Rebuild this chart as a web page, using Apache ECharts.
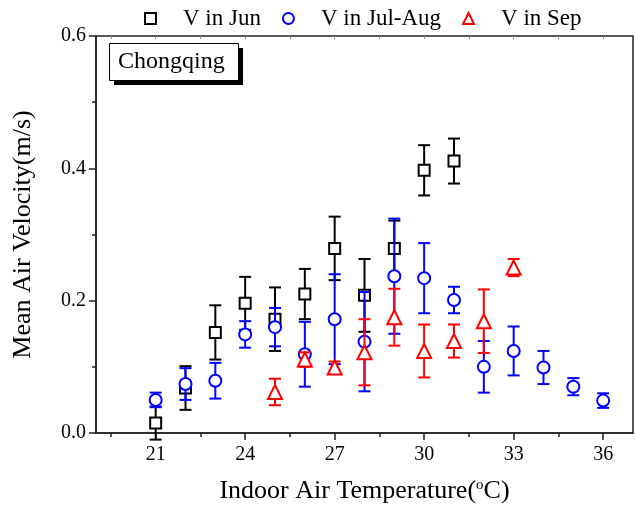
<!DOCTYPE html>
<html>
<head>
<meta charset="utf-8">
<script src="https://cdn.jsdelivr.net/npm/echarts@6/dist/echarts.min.js"></script>
<style>html,body{margin:0;padding:0;background:#fff}#c{width:635px;height:509px}</style>
</head>
<body>
<div id="c"></div>
<script>
// ---- data ----
var junX   = [21, 22, 23, 24, 25, 26, 27, 28, 29, 30, 31];
var junY   = [0.015, 0.068, 0.152, 0.196, 0.172, 0.210, 0.279, 0.208, 0.279, 0.397, 0.411];
var junErr = [0.025, 0.033, 0.041, 0.040, 0.048, 0.038, 0.048, 0.055, 0.042, 0.038, 0.034];

var julX   = [21, 22, 23, 24, 25, 26, 27, 28, 29, 30, 31, 32, 33, 34, 35, 36];
var julY   = [0.050, 0.074, 0.079, 0.149, 0.160, 0.119, 0.172, 0.138, 0.237, 0.234, 0.201, 0.100, 0.124, 0.099, 0.070, 0.049];
var julErr = [0.011, 0.024, 0.027, 0.020, 0.029, 0.049, 0.068, 0.075, 0.087, 0.053, 0.020, 0.039, 0.037, 0.025, 0.013, 0.011];

var sepX   = [25, 26, 27, 28, 29, 30, 31, 32, 33];
var sepY   = [0.062, 0.111, 0.099, 0.122, 0.175, 0.124, 0.139, 0.169, 0.250];
var sepErr = [0.020, 0.011, 0.009, 0.050, 0.043, 0.040, 0.025, 0.048, 0.013];

var xMajor = [21, 24, 27, 30, 33, 36];
var xMinor = [19.5, 22.5, 25.5, 28.5, 31.5, 34.5];
var seriesNames = ['V in Jun', 'V in Jul-Aug', 'V in Sep'];

var FONT = '"Liberation Serif", "Times New Roman", serif';

function pts(xs, ys) { return xs.map(function (x, i) { return [x, ys[i]]; }); }
function errs(xs, ys, es) { return xs.map(function (x, i) { return [x, ys[i] - es[i], ys[i] + es[i]]; }); }

function errRender(color) {
  return function (params, api) {
    var x = api.value(0);
    var lo = api.coord([x, api.value(1)]);
    var hi = api.coord([x, api.value(2)]);
    var w = 6;
    var st = { stroke: color, lineWidth: 2 };
    return {
      type: 'group',
      children: [
        { type: 'line', shape: { x1: lo[0], y1: lo[1], x2: hi[0], y2: hi[1] }, style: st },
        { type: 'line', shape: { x1: lo[0] - w, y1: lo[1], x2: lo[0] + w, y2: lo[1] }, style: st },
        { type: 'line', shape: { x1: hi[0] - w, y1: hi[1], x2: hi[0] + w, y2: hi[1] }, style: st }
      ]
    };
  };
}

var colors = ['#000000', '#0000ff', '#ff0000'];
var sets = [[junX, junY, junErr, 'emptyRect', 11], [julX, julY, julErr, 'emptyCircle', 12], [sepX, sepY, sepErr, 'emptyTriangle', 14]];

var series = [];
sets.forEach(function (s, k) {
  series.push({
    type: 'custom', name: seriesNames[k] + ' err', renderItem: errRender(colors[k]),
    data: errs(s[0], s[1], s[2]), encode: { x: 0, y: [1, 2] }, z: 2 + k * 2, silent: true
  });
  series.push({
    type: 'scatter', name: seriesNames[k], data: pts(s[0], s[1]),
    symbol: s[3], symbolSize: s[4],
    itemStyle: { color: colors[k], borderColor: colors[k], borderWidth: 2.6, opacity: 1 },
    z: 3 + k * 2
  });
});

var axisLineStyle = { color: '#222', width: 1.5 };

var chart = echarts.init(document.getElementById('c'));
chart.setOption({
  animation: false,
  backgroundColor: '#fff',
  grid: { left: 96, right: 2, top: 36, bottom: 76, show: true, borderColor: '#222', borderWidth: 1.5, backgroundColor: 'transparent' },
  legend: {
    data: seriesNames, left: 139, top: 2, itemWidth: 11, itemHeight: 11, itemGap: 21,
    itemStyle: { borderWidth: 2.6 },
    textStyle: { fontFamily: FONT, fontSize: 23, color: '#000', padding: [0, 0, 0, 22] }
  },
  xAxis: [
    {
      type: 'value', min: 19, max: 37, position: 'bottom',
      name: '{a|Indoor Air Temperature(}{s|o}{a|C)}', nameLocation: 'middle', nameGap: 45,
      nameTextStyle: { rich: { a: { fontFamily: FONT, fontSize: 26, color: '#000' }, s: { fontFamily: FONT, fontSize: 15, color: '#000', verticalAlign: 'top', padding: [0, 0, 10, 0] } } },
      axisLine: { show: true, lineStyle: axisLineStyle, onZero: false },
      axisTick: { show: true, inside: false, length: 7, lineStyle: axisLineStyle, customValues: xMajor },
      axisLabel: { fontFamily: FONT, fontSize: 20, color: '#000', margin: 12, customValues: xMajor },
      splitLine: { show: false }
    },
    {
      type: 'value', min: 19, max: 37, position: 'bottom',
      axisLine: { show: false },
      axisTick: { show: true, inside: false, length: 4, lineStyle: axisLineStyle, customValues: xMinor },
      axisLabel: { show: false, customValues: xMinor },
      splitLine: { show: false }
    },
    {
      type: 'value', min: 19, max: 37, position: 'top',
      axisLine: { show: false },
      axisTick: { show: true, inside: true, length: 3, lineStyle: { color: '#888', width: 1 }, customValues: xMinor.concat(xMajor) },
      axisLabel: { show: false, customValues: xMajor },
      splitLine: { show: false }
    }
  ],
  yAxis: [
    {
      type: 'value', min: 0, max: 0.6, interval: 0.2,
      name: 'Mean Air Velocity(m/s)', nameLocation: 'middle', nameGap: 60,
      nameTextStyle: { fontFamily: FONT, fontSize: 26, color: '#000' },
      axisLine: { show: true, lineStyle: axisLineStyle },
      axisTick: { show: true, inside: false, length: 7, lineStyle: axisLineStyle },
      minorTick: { show: true, splitNumber: 2, length: 4, lineStyle: axisLineStyle },
      axisLabel: { fontFamily: FONT, fontSize: 20, color: '#000', margin: 10, formatter: function (v) { return v.toFixed(1); } },
      splitLine: { show: false }
    }
  ],
  series: series,
  graphic: [
    { type: 'rect', left: 114, top: 48, shape: { width: 129, height: 37 }, style: { fill: '#000' }, z: 100 },
    { type: 'rect', left: 109, top: 43, shape: { width: 129, height: 37 }, style: { fill: '#fff', stroke: '#000', lineWidth: 1 }, z: 101 },
    { type: 'text', left: 118, top: 50, style: { text: 'Chongqing', fontFamily: FONT, fontSize: 24, fill: '#000' }, z: 102 }
  ]
});
</script>
</body>
</html>
